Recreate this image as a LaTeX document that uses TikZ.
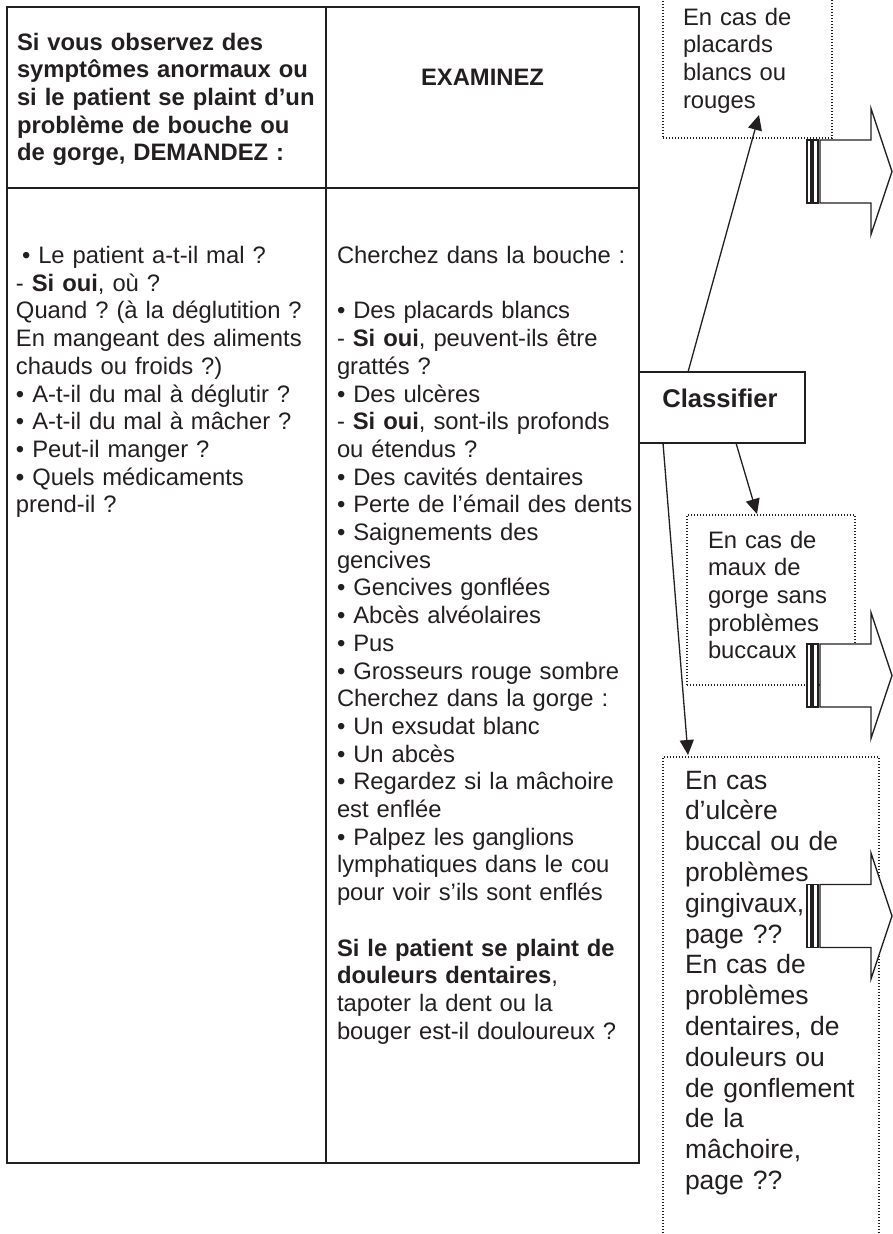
\documentclass[tikz,border=0pt]{standalone}
\usepackage{fontspec}
\setmainfont{Liberation Sans}
\usetikzlibrary{arrows.meta}
\definecolor{ink}{HTML}{231F20}
\newcommand{\fstrut}{\rule{0pt}{22pt}}
\newcommand{\gstrut}{\rule{0pt}{25pt}}
\frenchspacing
\begin{document}
\begin{tikzpicture}[x=1pt,y=-1pt,
  tline/.style={draw=ink, line width=2pt},
  txt/.style={anchor=north west, inner sep=0pt, outer sep=0pt, align=left, text width=#1, text=ink,
    font=\fontsize{23.8}{27.7}\selectfont},
  txt/.default=315pt,
  bigtxt/.style={anchor=north west, inner sep=0pt, outer sep=0pt, align=left, text width=200pt, text=ink,
    font=\fontsize{26.5}{30.8}\selectfont},
  dbox/.style={draw=ink, line width=1.1pt, dash pattern=on 1.1pt off 1.9pt, inner sep=0pt, outer sep=0pt, anchor=north west},
  clsbox/.style={draw=ink, line width=1.5pt, fill=white, inner sep=0pt, outer sep=0pt, anchor=north west,
    minimum width=166pt, minimum height=71pt},
  carrow/.style={draw=ink, line width=1.3pt, -{Triangle[length=15pt,width=14pt]}},
  arrline/.style={draw=ink, line width=1.3pt, fill=white, line join=miter},
  pics/blockarrow/.style={code={
    \draw[arrline] (0,-31.5) rectangle (4,31.5);
    \draw[arrline] (6,-31.5) rectangle (11,31.5);
    \draw[arrline] (13,-31.5) -- (64,-31.5) -- (64,-63) -- (85,0) -- (64,63) -- (64,31.5) -- (13,31.5) -- cycle;
  }}
]
\useasboundingbox (0,0) rectangle (893,1234);
\clip (0,0) rectangle (893,1234);

% table
\draw[tline] (7,7) rectangle (639,1163);
\draw[tline] (7,188) -- (639,188);
\draw[tline] (326,7) -- (326,1163);

% header
\node[txt] (hdrL) at (17,28) {\bfseries\fstrut Si vous observez des\\
symptômes anormaux ou\\
si le patient se plaint d’un\\
problème de bouche ou\\
de gorge, DEMANDEZ :};
\node[anchor=base, inner sep=0pt, text=ink, font=\fontsize{23.8}{27.7}\selectfont\bfseries] (hdrR) at (482.5,85) {EXAMINEZ};

% left body
\node[txt] (bodyL) at (16,241.5) {\fstrut\hspace*{6pt}• Le patient a-t-il mal ?\\
- \textbf{Si oui}, où ?\\
Quand ? (à la déglutition ?\\
En mangeant des aliments\\
chauds ou froids ?)\\
• A-t-il du mal à déglutir ?\\
• A-t-il du mal à mâcher ?\\
• Peut-il manger ?\\
\textbf{•} Quels médicaments\\
prend-il ?};

% middle body
\node[txt=300pt] (bodyM) at (337,241.5) {\fstrut Cherchez dans la bouche :\\
\mbox{}\\
• Des placards blancs\\
- \textbf{Si oui}, peuvent-ils être\\
grattés ?\\
• Des ulcères\\
- \textbf{Si oui}, sont-ils profonds\\
ou étendus ?\\
• Des cavités dentaires\\
• Perte de l’émail des dents\\
• Saignements des\\
gencives\\
• Gencives gonflées\\
• Abcès alvéolaires\\
• Pus\\
• Grosseurs rouge sombre\\
Cherchez dans la gorge :\\
• Un exsudat blanc\\
• Un abcès\\
• Regardez si la mâchoire\\
est enflée\\
• Palpez les ganglions\\
lymphatiques dans le cou\\
pour voir s’ils sont enflés\\
\mbox{}\\
\textbf{Si le patient se plaint de}\\
\textbf{douleurs dentaires},\\
tapoter la dent ou la\\
bouger est-il douloureux ?};

% dotted boxes
\node[dbox, minimum width=169pt, minimum height=150pt] (box1) at (663,-12) {};
\node[dbox, minimum width=168pt, minimum height=170pt] (box2) at (687,515) {};
\node[dbox, minimum width=216pt, minimum height=500pt] (box3) at (663,757) {};

\node[txt=145pt] (t1) at (683,3) {\fstrut En cas de\\ placards\\ blancs ou\\ rouges};
\node[txt=145pt] (t2) at (708,526) {\fstrut En cas de\\ maux de\\ gorge sans\\ problèmes\\ buccaux};
\node[bigtxt] (t3) at (685,764) {\gstrut En cas\\ d’ulcère\\ buccal ou de\\ problèmes\\ gingivaux,\\ page ??\\ En cas de\\ problèmes\\ dentaires, de\\ douleurs ou\\ de gonflement\\ de la\\ mâchoire,\\ page ??};

% block arrows
\pic (ba1) at (807,171.5) {blockarrow};
\pic (ba2) at (807,675.5) {blockarrow};
\pic (ba3) at (807,916) {blockarrow};

% classifier
\node[clsbox] (cls) at (639,372) {};
\node[anchor=base, inner sep=0pt, text=ink, font=\fontsize{25.6}{30}\selectfont\bfseries] (clstext) at (720,407) {Classifier};

\draw[carrow] ([xshift=49pt]cls.north west) -- ([xshift=96pt,yshift=23pt]box1.south west);
\draw[carrow] ([xshift=97pt]cls.south west) -- ([xshift=70pt,yshift=1pt]box2.north west);
\draw[carrow] ([xshift=24pt]cls.south west) -- ([xshift=25pt,yshift=2pt]box3.north west);
\end{tikzpicture}
\end{document}
